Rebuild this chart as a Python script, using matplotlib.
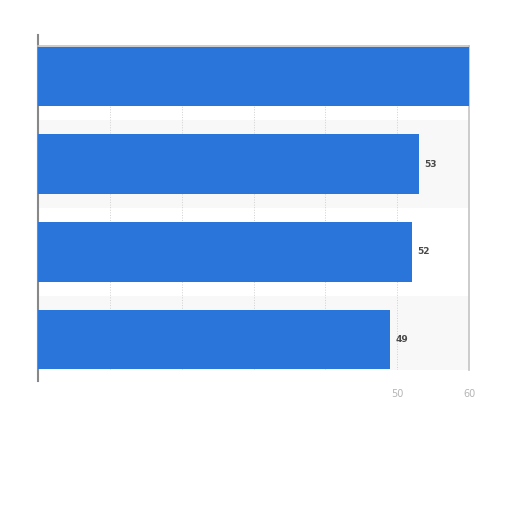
import matplotlib
matplotlib.use('Agg')
import matplotlib.pyplot as plt
import numpy as np

# values, top bar to bottom bar
values = [60, 53, 52, 49]
shown_labels = [None, '53', '52', '49']
tick_vals = [0, 10, 20, 30, 40, 50, 60]
tick_labels = ['', '', '', '', '', '50', '60']

bar_color = '#2a75d9'

fig = plt.figure(figsize=(5.12, 5.12), dpi=100)
fig.set_facecolor('w')
ax = fig.add_axes([38/512, 1-370/512, (469-38)/512, (370-46)/512])

ypos = np.arange(len(values))

# alternating row bands
for i in ypos:
    if i % 2 == 1:
        ax.axhspan(i-0.5, i+0.5, color='#f8f8f8', zorder=0, lw=0)

ax.barh(ypos, values, height=0.68, color=bar_color, zorder=3)

for i, (v, lab) in enumerate(zip(values, shown_labels)):
    if lab is not None:
        ax.annotate(lab, (v, i), xytext=(4, 0), textcoords='offset points',
                    va='center', ha='left', fontsize=6.5, fontweight='bold',
                    color='#4a4a4a')

ax.set_xlim(0, 60)
ax.set_ylim(3.35, -0.35)
ax.set_yticks([])
ax.set_xticks(tick_vals)
ax.set_xticklabels(tick_labels, fontsize=7, color='#b5b5b5')
ax.tick_params(axis='x', length=0, pad=14)
ax.grid(axis='x', color='#d0d0d0', linestyle=':', linewidth=0.7, zorder=1)
ax.set_axisbelow(True)

for side in ['top', 'right']:
    ax.spines[side].set_color('#c4c4c4')
    ax.spines[side].set_linewidth(1.2)
ax.spines['bottom'].set_visible(False)
ax.spines['left'].set_color('#888888')
ax.spines['left'].set_linewidth(1.5)
ax.spines['left'].set_bounds(-0.48, 3.47)

fig.savefig('out.png', dpi=100, facecolor='w')
